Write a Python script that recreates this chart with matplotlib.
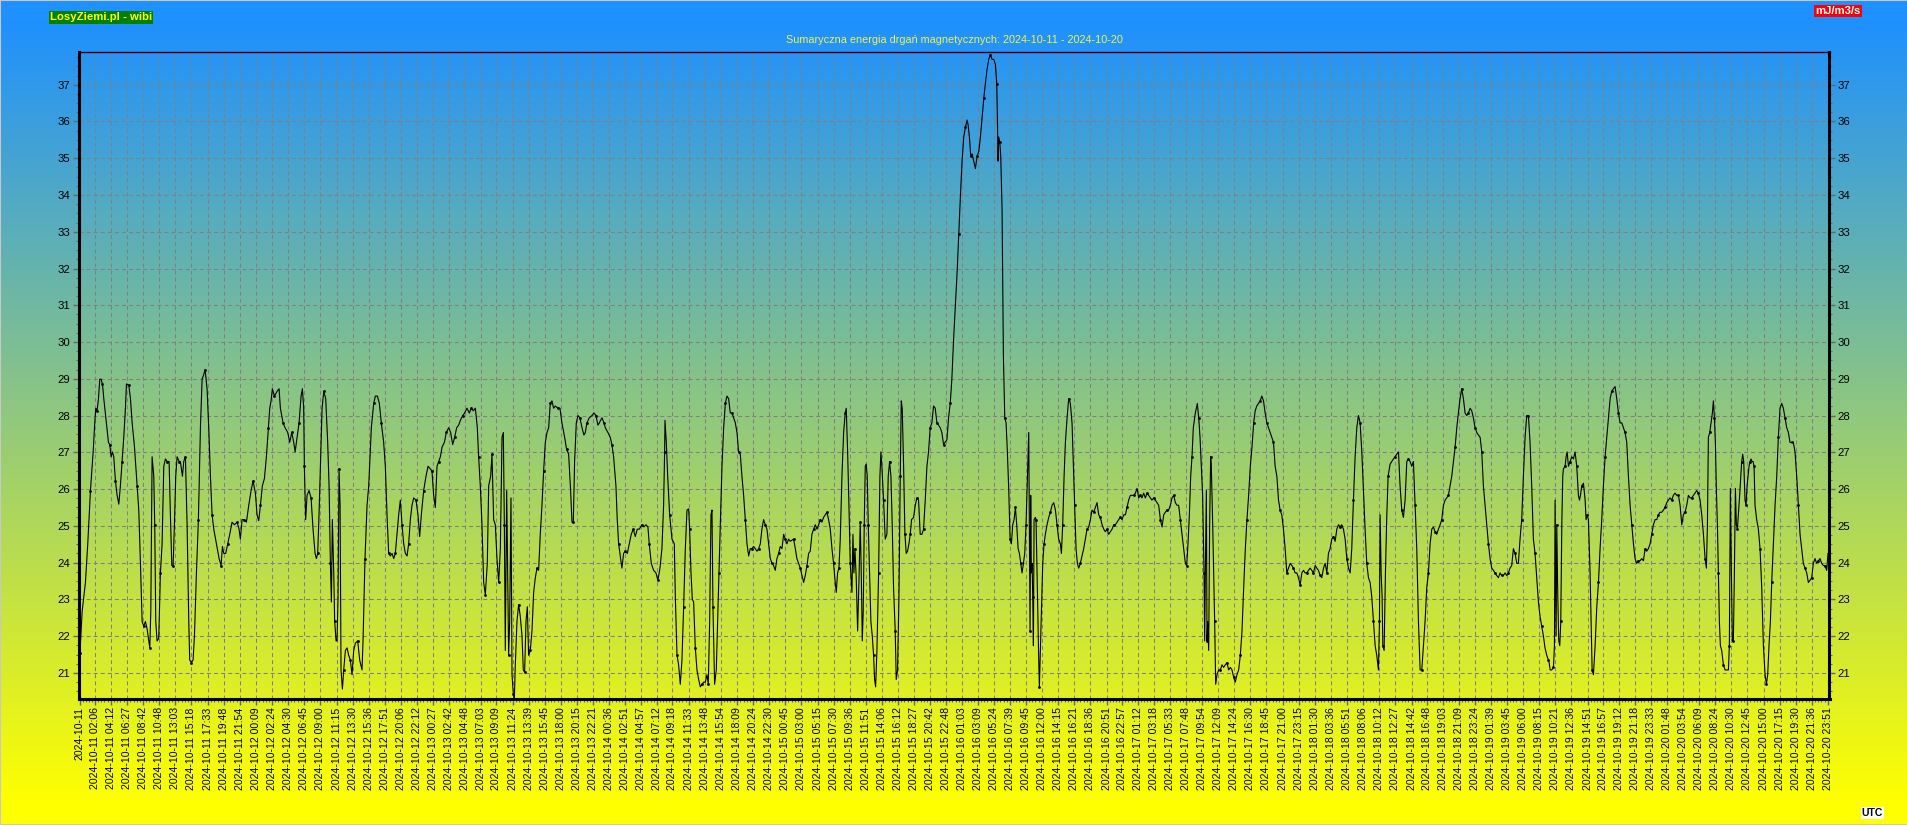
import matplotlib
matplotlib.use('Agg')
import matplotlib.pyplot as plt
import numpy as np
from datetime import datetime
from matplotlib.ticker import FixedLocator, MultipleLocator

# odczyty (godziny od 2024-10-11 00:00 UTC, energia mJ/m3/s)
odcinek_11_12 = [
    (0.00, 21.55), (0.30, 22.67), (0.75, 23.46), (1.07, 24.51), (1.44, 25.96), (1.81, 27.01), (2.03, 27.80),
    (2.17, 28.20), (2.35, 28.13), (2.54, 28.46), (2.72, 28.99), (2.90, 28.99), (3.09, 28.86), (3.27, 28.46),
    (3.63, 27.80), (3.91, 27.27), (4.09, 27.21), (4.27, 26.88), (4.46, 27.01), (4.64, 26.88), (4.87, 26.22),
    (5.10, 25.83), (5.33, 25.59), (5.55, 26.09), (5.78, 26.75), (6.01, 27.41), (6.24, 28.20), (6.38, 28.86),
    (6.70, 28.83), (6.93, 28.46), (7.16, 27.80), (7.48, 27.15), (7.84, 26.09), (8.07, 25.43), (8.30, 23.98),
    (8.53, 22.40), (8.76, 22.27), (8.98, 22.40), (9.21, 22.20), (9.44, 21.87), (9.58, 21.68), (9.72, 22.67),
    (9.90, 26.88), (10.13, 26.35), (10.26, 25.03), (10.40, 22.40), (10.58, 21.87), (10.81, 21.94), (11.04, 23.72),
    (11.27, 24.51), (11.50, 26.62), (11.73, 26.82), (11.96, 26.75), (12.23, 26.75), (12.41, 25.30), (12.60, 23.92),
    (12.78, 23.92), (12.96, 25.03), (13.14, 26.35), (13.33, 26.88), (13.60, 26.75), (13.78, 26.75), (14.06, 26.35),
    (14.24, 26.75), (14.47, 26.88), (14.70, 25.03), (14.93, 22.40), (15.06, 21.35), (15.29, 21.28), (15.52, 21.35),
    (15.71, 22.01), (15.98, 23.72), (16.25, 25.17), (16.53, 27.67), (16.76, 28.99), (16.99, 29.12), (17.17, 29.25),
    (17.44, 28.73), (17.67, 27.67), (17.90, 26.35), (18.13, 25.30), (18.36, 24.91), (18.72, 24.51), (19.09, 24.11),
    (19.36, 23.92), (19.55, 24.44), (19.73, 24.25), (20.00, 24.25), (20.28, 24.51), (20.55, 24.77), (20.87, 25.10),
    (21.19, 25.03), (21.56, 25.10), (21.83, 24.91), (22.01, 24.64), (22.24, 25.17), (22.56, 25.17), (22.84, 25.10),
    (23.16, 25.56), (23.48, 25.96), (23.75, 26.22), (24.07, 25.89), (24.30, 25.30), (24.53, 25.14), (24.76, 25.56),
    (25.03, 26.09), (25.31, 26.29), (25.58, 26.88), (25.86, 27.67), (26.04, 28.20), (26.22, 28.40), (26.40, 28.73),
    (26.68, 28.53), (27.05, 28.66), (27.32, 28.73), (27.50, 28.20), (27.87, 27.80), (28.14, 27.67), (28.51, 27.54),
    (28.78, 27.27), (29.06, 27.54), (29.33, 27.27), (29.52, 27.01), (29.79, 27.41), (30.06, 27.80), (30.34, 28.53),
    (30.52, 28.73), (30.70, 28.20), (30.79, 26.62), (30.97, 25.17), (31.16, 25.83), (31.43, 25.96), (31.71, 25.76),
    (31.98, 24.91), (32.26, 24.25), (32.44, 24.11), (32.62, 24.25), (32.80, 25.30), (32.99, 26.62), (33.22, 28.20),
    (33.45, 28.66), (33.72, 28.46), (33.99, 27.27), (34.18, 26.09), (34.36, 23.98), (34.50, 22.93), (34.63, 25.17),
    (34.82, 23.72), (34.95, 22.40), (35.14, 21.87), (35.27, 21.87), (35.41, 23.06), (35.55, 26.55), (35.69, 25.56),
    (35.82, 21.08), (36.01, 20.56), (36.19, 21.08), (36.42, 21.61), (36.65, 21.68), (36.87, 21.48), (37.10, 21.35),
    (37.33, 20.95), (37.56, 21.61), (37.79, 21.81), (38.11, 21.87), (38.38, 21.35), (38.70, 21.08), (38.84, 21.87),
    (39.11, 24.11), (39.39, 25.56),
]

odcinek_12_14 = [
    (39.62, 26.09), (39.98, 27.67), (40.30, 28.33), (40.53, 28.53), (40.81, 28.53), (41.08, 28.33), (41.35, 27.80),
    (41.67, 27.27), (41.90, 26.62), (42.13, 25.30), (42.36, 24.25), (42.59, 24.18), (42.82, 24.25), (43.05, 24.11),
    (43.27, 24.25), (43.50, 24.77), (43.73, 25.30), (43.96, 25.70), (44.19, 25.03), (44.42, 24.51), (44.65, 24.25),
    (44.88, 24.18), (45.10, 24.51), (45.33, 25.17), (45.56, 25.56), (45.79, 25.76), (46.11, 25.70), (46.38, 25.30),
    (46.61, 24.71), (46.84, 25.30), (47.16, 25.96), (47.48, 26.35), (47.76, 26.62), (48.08, 26.55), (48.30, 26.49),
    (48.53, 25.83), (48.76, 25.50), (48.99, 26.62), (49.22, 26.75), (49.45, 26.88), (49.68, 27.14), (50.00, 27.27),
    (50.27, 27.54), (50.59, 27.67), (50.86, 27.54), (51.14, 27.21), (51.41, 27.41), (51.69, 27.67), (51.96, 27.74),
    (52.19, 27.87), (52.51, 28.00), (52.78, 28.07), (53.10, 28.20), (53.42, 28.07), (53.70, 28.20), (53.97, 28.13),
    (54.25, 28.20), (54.52, 27.67), (54.70, 26.88), (54.93, 26.09), (55.16, 25.03), (55.39, 23.46), (55.62, 23.13),
    (55.89, 23.98), (56.08, 26.09), (56.35, 26.35), (56.53, 26.95), (56.76, 25.17), (56.99, 25.03), (57.22, 24.11),
    (57.45, 23.46), (57.68, 24.38), (57.91, 27.41), (58.09, 27.54), (58.23, 25.03), (58.36, 21.61), (58.55, 25.96),
    (58.68, 23.72), (58.82, 21.48), (58.96, 22.40), (59.14, 25.76), (59.28, 20.95), (59.46, 20.43), (59.60, 20.29),
    (59.73, 21.21), (59.96, 22.40), (60.19, 22.86), (60.42, 22.53), (60.65, 22.01), (60.83, 21.08), (61.01, 21.02),
    (61.20, 22.40), (61.38, 22.80), (61.56, 21.48), (61.79, 21.61), (62.02, 22.14), (62.25, 23.19), (62.48, 23.59),
    (62.71, 23.85), (62.93, 23.79), (63.16, 24.77), (63.39, 25.56), (63.62, 26.49), (63.85, 27.27), (64.08, 27.54),
    (64.31, 27.67), (64.53, 28.33), (64.76, 28.40), (64.99, 28.20), (65.22, 28.26), (65.59, 28.20), (65.86, 28.20),
    (66.13, 27.80), (66.50, 27.41), (66.77, 27.08), (67.05, 26.95), (67.32, 25.96), (67.51, 25.10), (67.69, 25.10),
    (67.87, 26.75), (68.10, 27.80), (68.33, 28.00), (68.60, 27.94), (68.88, 27.67), (69.15, 27.47), (69.34, 27.54),
    (69.56, 27.80), (69.88, 27.94), (70.25, 28.00), (70.52, 28.07), (70.80, 28.00), (71.07, 27.74), (71.26, 27.80),
    (71.62, 27.94), (71.90, 27.80), (72.08, 27.67), (72.44, 27.54), (72.76, 27.41), (72.99, 27.21), (73.22, 26.88),
    (73.54, 26.09), (73.72, 25.17), (73.91, 24.51), (74.18, 24.11), (74.36, 23.85), (74.59, 24.25), (74.82, 24.31),
    (75.10, 24.25), (75.37, 24.51), (75.64, 24.77), (75.92, 24.91), (76.19, 24.71), (76.47, 24.91), (76.74, 24.91),
    (77.11, 25.03), (77.38, 24.97), (77.66, 25.03), (77.93, 24.97), (78.11, 24.51), (78.39, 23.98), (78.71, 23.79),
    (79.03, 23.72), (79.30, 23.52), (79.58, 23.85), (79.85, 24.38), (80.08, 25.56), (80.22, 27.01),
]

odcinek_14_16 = [
    (80.27, 27.87), (80.45, 27.28), (80.64, 26.35), (80.91, 25.30), (81.23, 24.64), (81.55, 24.51), (81.69, 23.06),
    (81.92, 21.48), (82.14, 21.22), (82.37, 20.69), (82.60, 21.35), (82.83, 22.80), (83.06, 24.38), (83.29, 25.43),
    (83.52, 25.46), (83.65, 24.91), (83.84, 23.72), (84.02, 23.00), (84.20, 22.93), (84.43, 21.68), (84.66, 21.08),
    (84.89, 20.82), (85.12, 20.62), (85.35, 20.69), (85.57, 20.75), (85.80, 20.75), (86.03, 20.95), (86.21, 20.69),
    (86.40, 22.40), (86.58, 25.30), (86.72, 25.43), (86.85, 22.80), (87.08, 20.69), (87.31, 21.08), (87.49, 22.40),
    (87.68, 23.72), (87.86, 25.03), (88.09, 26.62), (88.32, 27.67), (88.55, 28.33), (88.77, 28.53), (89.00, 28.46),
    (89.23, 28.07), (89.46, 28.07), (89.69, 27.94), (89.92, 27.80), (90.15, 27.54), (90.37, 27.01), (90.60, 26.95),
    (90.83, 26.35), (91.06, 25.83), (91.29, 25.17), (91.52, 24.51), (91.75, 24.18), (91.97, 24.38), (92.20, 24.38),
    (92.43, 24.44), (92.66, 24.38), (92.89, 24.31), (93.12, 24.38), (93.35, 24.51), (93.57, 24.91), (93.80, 25.17),
    (94.03, 25.03), (94.26, 24.91), (94.49, 24.51), (94.72, 24.11), (94.95, 23.98), (95.17, 23.92), (95.40, 23.79),
    (95.63, 24.11), (95.86, 24.25), (96.09, 24.44), (96.32, 24.38), (96.55, 24.77), (96.77, 24.64), (97.00, 24.51),
    (97.23, 24.64), (97.46, 24.58), (97.92, 24.64), (98.15, 24.38), (98.37, 24.11), (98.60, 23.98), (98.83, 23.85),
    (99.06, 23.65), (99.29, 23.46), (99.52, 23.65), (99.75, 23.92), (99.98, 24.25), (100.20, 24.31), (100.43, 24.77),
    (100.66, 24.91), (100.89, 25.03), (101.12, 24.91), (101.35, 25.03), (101.58, 25.17), (101.80, 25.10),
    (102.03, 25.23), (102.26, 25.30), (102.49, 25.37), (102.72, 25.17), (102.95, 24.91), (103.18, 24.38),
    (103.40, 23.98), (103.63, 23.46), (103.77, 23.19), (103.95, 23.72), (104.14, 23.85), (104.32, 24.64),
    (104.55, 26.35), (104.78, 27.54), (105.00, 28.07), (105.14, 28.20), (105.33, 27.01), (105.51, 25.56),
    (105.69, 23.98), (105.92, 23.19), (106.06, 24.77), (106.19, 23.72), (106.33, 24.38), (106.51, 23.59),
    (106.70, 22.14), (106.88, 23.46), (107.06, 25.10), (107.20, 23.72), (107.34, 21.87), (107.47, 22.67),
    (107.61, 25.03), (107.75, 26.62), (107.88, 26.68), (108.02, 26.35), (108.16, 25.03), (108.34, 23.72),
    (108.52, 22.40), (108.71, 22.01), (108.89, 21.48), (109.03, 20.82), (109.17, 20.62), (109.35, 21.61),
    (109.58, 23.72), (109.76, 26.35), (109.90, 27.01), (110.03, 26.62), (110.26, 25.70), (110.49, 24.64),
    (110.72, 24.77), (110.90, 26.35), (111.09, 26.75), (111.27, 26.35), (111.45, 25.03), (111.63, 23.32),
    (111.86, 22.14), (112.00, 20.82), (112.18, 21.08), (112.37, 23.06), (112.55, 26.35), (112.69, 28.40),
    (112.82, 28.20), (113.01, 26.62), (113.19, 24.77), (113.37, 24.25), (113.55, 24.31), (113.74, 24.51),
    (113.92, 24.77), (114.10, 25.17), (114.38, 25.23), (114.61, 25.56), (114.83, 25.76), (115.06, 25.70),
    (115.29, 24.77), (115.52, 24.77), (115.75, 24.91), (115.98, 25.70), (116.21, 26.62), (116.43, 27.01),
    (116.66, 27.67), (116.89, 27.80), (117.12, 28.26), (117.35, 28.20), (117.58, 27.80), (117.81, 27.74),
    (118.03, 27.67), (118.26, 27.54), (118.49, 27.21), (118.72, 27.28), (118.95, 27.34), (119.18, 27.94),
    (119.41, 28.33), (119.63, 28.99), (119.86, 30.04),
]

odcinek_16_17 = [
    (120.35, 31.89), (120.58, 32.94), (120.81, 33.99), (121.03, 34.92), (121.26, 35.58), (121.49, 35.84),
    (121.72, 36.04), (121.86, 35.91), (122.04, 35.58), (122.22, 35.05), (122.41, 35.12), (122.63, 34.92),
    (122.86, 34.72), (123.09, 35.05), (123.32, 35.18), (123.55, 35.58), (123.78, 36.10), (124.01, 36.63),
    (124.23, 37.03), (124.46, 37.42), (124.69, 37.69), (124.92, 37.82), (125.15, 37.69), (125.38, 37.69),
    (125.61, 37.55), (125.79, 37.03), (125.88, 36.10), (125.97, 34.92), (126.06, 35.58), (126.20, 35.45),
    (126.34, 35.05), (126.52, 33.60), (126.70, 29.65), (126.89, 27.94), (127.07, 27.80), (127.25, 27.01),
    (127.44, 25.96), (127.62, 24.64), (127.80, 24.51), (127.98, 25.03), (128.17, 25.17), (128.35, 25.50),
    (128.53, 25.03), (128.72, 24.38), (128.90, 24.25), (129.08, 23.98), (129.26, 23.72), (129.45, 23.98),
    (129.63, 24.25), (129.81, 25.03), (130.00, 26.35), (130.18, 27.54), (130.27, 25.03), (130.36, 22.14),
    (130.45, 25.83), (130.54, 23.72), (130.64, 23.98), (130.73, 23.06), (130.82, 21.74), (130.91, 25.17),
    (131.09, 25.23), (131.18, 25.17), (131.32, 23.72), (131.46, 22.40), (131.55, 21.35), (131.64, 20.62),
    (131.78, 21.61), (131.92, 22.53), (132.10, 23.98), (132.28, 24.51), (132.46, 24.77), (132.69, 25.03),
    (132.92, 25.23), (133.15, 25.37), (133.38, 25.56), (133.61, 25.63), (133.84, 25.43), (134.06, 25.03),
    (134.29, 24.64), (134.52, 24.51), (134.66, 24.25), (134.84, 25.03), (135.03, 26.35), (135.21, 27.27),
    (135.44, 27.94), (135.66, 28.46), (135.89, 28.33), (136.12, 27.80), (136.35, 26.35), (136.49, 25.56),
    (136.67, 24.38), (136.85, 23.98), (137.04, 23.85), (137.26, 23.98), (137.49, 24.18), (137.72, 24.38),
    (137.95, 24.64), (138.18, 24.91), (138.41, 24.97), (138.64, 25.17), (138.86, 25.43), (139.09, 25.37),
    (139.32, 25.50), (139.55, 25.63), (139.78, 25.30), (140.01, 25.23), (140.24, 25.03), (140.47, 24.91),
    (140.69, 24.84), (140.92, 24.91), (141.15, 24.77), (141.38, 24.84), (141.61, 24.91), (141.84, 25.03),
    (142.07, 25.03), (142.29, 25.10), (142.52, 25.17), (142.75, 25.23), (142.98, 25.17), (143.21, 25.30),
    (143.44, 25.30), (143.67, 25.50), (143.89, 25.70), (144.12, 25.83), (144.35, 25.83), (144.58, 25.83),
    (144.81, 25.89), (145.04, 26.02), (145.27, 25.76), (145.49, 25.83), (145.72, 25.76), (145.95, 25.89),
    (146.18, 25.76), (146.41, 25.89), (146.64, 25.83), (146.87, 25.76), (147.09, 25.70), (147.32, 25.76),
    (147.55, 25.70), (147.78, 25.63), (148.01, 25.56), (148.24, 25.17), (148.47, 24.97), (148.70, 25.30),
    (148.92, 25.37), (149.15, 25.43), (149.38, 25.43), (149.61, 25.56), (149.84, 25.76), (150.07, 25.83),
    (150.30, 25.63), (150.52, 25.56), (150.75, 25.56), (150.98, 25.17), (151.21, 24.77), (151.44, 24.38),
    (151.67, 23.98), (151.85, 23.92), (152.03, 24.51), (152.22, 25.30), (152.40, 26.35), (152.58, 26.88),
    (152.76, 27.67), (153.04, 28.07), (153.31, 28.33), (153.50, 27.94), (153.68, 27.41), (153.86, 26.62),
    (154.04, 25.83), (154.23, 23.72), (154.32, 21.87), (154.41, 23.72), (154.55, 25.96), (154.64, 21.87),
    (154.73, 22.40), (154.87, 21.61), (155.00, 25.03), (155.14, 26.88), (155.23, 26.62), (155.42, 25.03),
    (155.55, 23.72), (155.69, 22.40), (155.83, 20.69), (156.01, 20.95), (156.24, 21.08), (156.47, 21.08),
    (156.70, 21.22), (156.92, 21.15), (157.15, 21.22), (157.38, 21.28), (157.61, 21.08), (157.84, 21.15),
    (158.07, 21.08), (158.30, 20.88), (158.52, 20.75), (158.75, 20.95), (158.98, 21.08), (159.21, 21.48),
    (159.44, 22.14), (159.67, 23.32), (159.90, 24.38), (160.12, 25.17), (160.35, 25.83), (160.58, 26.62),
    (160.81, 27.14), (161.04, 27.80),
]

odcinek_17_19 = [
    (161.25, 28.13), (161.47, 28.26), (161.70, 28.33), (161.93, 28.40), (162.16, 28.53), (162.39, 28.40),
    (162.62, 28.07), (162.85, 27.80), (163.07, 27.67), (163.30, 27.54), (163.53, 27.41), (163.76, 27.27),
    (163.99, 26.62), (164.22, 26.35), (164.45, 25.70), (164.67, 25.43), (164.90, 25.30), (165.13, 24.91),
    (165.36, 24.38), (165.59, 23.72), (165.82, 23.85), (166.05, 23.98), (166.28, 23.92), (166.50, 23.85),
    (166.73, 23.72), (166.96, 23.72), (167.19, 23.59), (167.42, 23.39), (167.65, 23.72), (167.88, 23.79),
    (168.10, 23.72), (168.33, 23.72), (168.56, 23.79), (168.79, 23.85), (169.02, 23.79), (169.25, 23.72),
    (169.48, 23.92), (169.70, 23.85), (169.93, 23.79), (170.16, 23.65), (170.39, 23.59), (170.62, 23.85),
    (170.85, 23.98), (171.08, 23.72), (171.30, 24.25), (171.53, 24.38), (171.76, 24.64), (171.99, 24.71),
    (172.22, 24.58), (172.45, 24.91), (172.68, 25.03), (172.90, 24.97), (173.13, 25.03), (173.36, 24.91),
    (173.59, 24.64), (173.82, 24.11), (174.05, 23.85), (174.28, 23.72), (174.50, 24.38), (174.73, 25.70),
    (174.96, 26.88), (175.19, 27.67), (175.42, 28.00), (175.65, 27.80), (175.88, 27.01), (176.10, 25.96),
    (176.33, 24.91), (176.56, 23.98), (176.79, 23.59), (177.02, 23.46), (177.25, 23.06), (177.48, 22.40),
    (177.71, 21.74), (177.93, 21.48), (178.16, 21.08), (178.30, 22.40), (178.39, 25.30), (178.53, 23.72),
    (178.67, 23.06), (178.76, 21.74), (178.94, 21.61), (179.12, 23.72), (179.31, 25.30), (179.49, 26.35),
    (179.76, 26.68), (179.99, 26.75), (180.22, 26.82), (180.45, 26.88), (180.68, 26.95), (180.91, 27.01),
    (181.13, 26.09), (181.36, 25.43), (181.59, 25.23), (181.82, 25.70), (182.05, 26.75), (182.28, 26.82),
    (182.51, 26.75), (182.73, 26.62), (182.96, 26.75), (183.19, 25.56), (183.42, 24.38), (183.65, 22.40),
    (183.88, 21.08), (184.11, 21.08), (184.33, 21.74), (184.56, 22.40), (184.79, 23.32), (185.02, 23.72),
    (185.25, 24.51), (185.48, 24.91), (185.71, 24.97), (185.93, 24.84), (186.16, 24.77), (186.39, 24.91),
    (186.62, 25.03), (186.85, 25.17), (187.08, 25.56), (187.31, 25.70), (187.53, 25.76), (187.76, 25.83),
    (187.99, 26.09), (188.22, 26.35), (188.45, 26.75), (188.68, 27.14), (188.91, 27.67), (189.13, 28.07),
    (189.36, 28.46), (189.59, 28.73), (189.82, 28.46), (190.05, 28.07), (190.28, 28.00), (190.51, 28.07),
    (190.74, 28.20), (190.96, 28.13), (191.19, 27.94), (191.42, 27.67), (191.65, 27.54), (191.88, 27.47),
    (192.11, 27.41), (192.34, 27.01), (192.56, 26.09), (192.79, 25.56), (193.02, 25.03), (193.25, 24.51),
    (193.48, 24.11), (193.71, 23.85), (193.94, 23.79), (194.16, 23.72), (194.39, 23.65), (194.62, 23.59),
    (194.85, 23.72), (195.08, 23.65), (195.31, 23.65), (195.54, 23.72), (195.76, 23.65), (195.99, 23.72),
    (196.22, 23.85), (196.45, 23.92), (196.68, 24.38), (196.91, 24.25), (197.14, 23.98), (197.36, 23.98),
    (197.59, 24.64), (197.82, 25.17), (198.05, 26.35), (198.28, 27.41), (198.51, 28.00), (198.74, 28.00),
    (198.96, 27.27), (199.19, 26.09), (199.42, 24.64), (199.65, 24.25), (199.88, 23.59), (200.11, 22.93),
    (200.34, 22.53), (200.56, 22.27), (200.79, 22.01), (201.02, 21.68), (201.25, 21.48), (201.48, 21.35),
]

odcinek_19_20 = [
    (201.58, 21.28), (201.72, 21.08), (201.94, 21.08), (202.17, 21.15), (202.31, 21.74), (202.40, 25.70),
    (202.54, 22.01), (202.63, 25.03), (202.77, 23.06), (202.90, 21.87), (203.04, 21.74), (203.18, 22.40),
    (203.32, 25.03), (203.45, 26.35), (203.54, 26.55), (203.77, 26.62), (203.91, 26.88), (204.05, 27.01),
    (204.23, 26.62), (204.46, 26.75), (204.69, 26.88), (204.92, 26.82), (205.14, 27.01), (205.37, 26.62),
    (205.60, 25.83), (205.74, 25.70), (205.88, 25.83), (206.06, 26.09), (206.29, 26.16), (206.52, 25.70),
    (206.65, 25.17), (206.79, 25.30), (206.97, 25.17), (207.20, 23.72), (207.34, 22.40), (207.48, 21.08),
    (207.66, 20.95), (207.89, 21.74), (208.12, 22.80), (208.35, 23.46), (208.57, 24.38), (208.80, 25.17),
    (209.03, 26.09), (209.26, 26.88), (209.49, 27.41), (209.72, 27.94), (209.95, 28.46), (210.17, 28.66),
    (210.40, 28.73), (210.63, 28.79), (210.86, 28.46), (211.09, 28.07), (211.32, 27.80), (211.55, 27.80),
    (211.77, 27.67), (212.00, 27.54), (212.23, 27.27), (212.46, 26.35), (212.69, 25.56), (212.92, 25.03),
    (213.15, 24.51), (213.37, 24.11), (213.60, 23.98), (213.83, 24.05), (214.06, 24.05), (214.29, 24.11),
    (214.52, 24.05), (214.75, 24.38), (214.97, 24.31), (215.20, 24.38), (215.43, 24.51), (215.66, 24.77),
    (215.89, 25.03), (216.12, 25.17), (216.35, 25.17), (216.57, 25.30), (216.80, 25.37), (217.03, 25.37),
    (217.26, 25.43), (217.49, 25.50), (217.72, 25.63), (217.95, 25.70), (218.17, 25.76), (218.40, 25.70),
    (218.63, 25.83), (218.86, 25.89), (219.09, 25.83), (219.32, 25.83), (219.55, 25.56), (219.78, 25.03),
    (220.00, 25.30), (220.23, 25.37), (220.46, 25.56), (220.69, 25.83), (220.92, 25.76), (221.15, 25.76),
    (221.38, 25.83), (221.60, 25.89), (221.83, 25.96), (222.06, 25.89), (222.29, 25.70), (222.52, 25.30),
    (222.75, 24.77), (222.98, 24.11), (223.16, 23.85), (223.30, 25.03), (223.43, 27.41), (223.62, 27.54),
    (223.80, 27.80), (223.98, 28.07), (224.12, 28.40), (224.26, 27.94), (224.39, 27.28), (224.53, 25.96),
    (224.67, 25.03), (224.80, 23.72), (224.94, 22.40), (225.08, 21.74), (225.26, 21.61), (225.49, 21.22),
    (225.72, 21.08), (225.95, 21.08), (226.18, 21.08), (226.31, 21.74), (226.45, 26.02), (226.59, 23.72),
    (226.72, 21.87), (226.86, 21.87), (227.00, 23.72), (227.14, 26.02), (227.27, 25.03), (227.41, 24.91),
    (227.55, 25.30), (227.68, 25.70), (227.87, 26.35), (228.00, 26.75), (228.14, 26.95), (228.28, 26.75),
    (228.46, 25.70), (228.60, 25.56), (228.74, 26.09), (228.87, 26.35), (229.01, 26.62), (229.15, 26.75),
    (229.28, 26.82), (229.42, 26.75), (229.56, 26.75), (229.70, 26.62), (229.83, 25.56), (230.06, 25.17),
    (230.29, 24.91), (230.52, 24.38), (230.75, 23.32), (230.98, 21.74), (231.21, 20.95), (231.39, 20.69),
    (231.57, 20.95), (231.75, 21.74), (231.94, 22.40), (232.12, 23.46), (232.35, 24.51), (232.58, 25.56),
    (232.81, 26.35), (233.03, 27.41), (233.26, 28.20), (233.49, 28.33), (233.72, 28.20), (233.95, 27.94),
    (234.18, 27.67), (234.41, 27.54), (234.63, 27.27), (234.86, 27.27), (235.09, 27.27), (235.32, 27.01),
    (235.55, 26.35), (235.78, 25.56), (236.01, 24.77), (236.23, 24.38), (236.46, 23.98), (236.69, 23.85),
    (236.92, 23.72), (237.15, 23.46), (237.38, 23.52), (237.61, 23.59), (237.83, 23.98), (238.06, 24.11),
    (238.29, 23.98), (238.52, 24.05), (238.75, 24.11), (238.98, 23.98), (239.21, 23.92), (239.44, 23.92),
    (239.66, 23.79), (239.85, 24.25),
]

etykiety_x = [
    "2024-10-11",
    "2024-10-11 02:06", "2024-10-11 04:12", "2024-10-11 06:27", "2024-10-11 08:42", "2024-10-11 10:48",
    "2024-10-11 13:03", "2024-10-11 15:18", "2024-10-11 17:33", "2024-10-11 19:48", "2024-10-11 21:54",
    "2024-10-12 00:09", "2024-10-12 02:24", "2024-10-12 04:30", "2024-10-12 06:45", "2024-10-12 09:00",
    "2024-10-12 11:15", "2024-10-12 13:30", "2024-10-12 15:36", "2024-10-12 17:51", "2024-10-12 20:06",
    "2024-10-12 22:12",
    "2024-10-13 00:27", "2024-10-13 02:42", "2024-10-13 04:48", "2024-10-13 07:03", "2024-10-13 09:09",
    "2024-10-13 11:24", "2024-10-13 13:39", "2024-10-13 15:45", "2024-10-13 18:00", "2024-10-13 20:15",
    "2024-10-13 22:21",
    "2024-10-14 00:36", "2024-10-14 02:51", "2024-10-14 04:57", "2024-10-14 07:12", "2024-10-14 09:18",
    "2024-10-14 11:33", "2024-10-14 13:48", "2024-10-14 15:54", "2024-10-14 18:09", "2024-10-14 20:24",
    "2024-10-14 22:30",
    "2024-10-15 00:45", "2024-10-15 03:00", "2024-10-15 05:15", "2024-10-15 07:30", "2024-10-15 09:36",
    "2024-10-15 11:51", "2024-10-15 14:06", "2024-10-15 16:12", "2024-10-15 18:27", "2024-10-15 20:42",
    "2024-10-15 22:48",
    "2024-10-16 01:03", "2024-10-16 03:09", "2024-10-16 05:24", "2024-10-16 07:39", "2024-10-16 09:45",
    "2024-10-16 12:00", "2024-10-16 14:15", "2024-10-16 16:21", "2024-10-16 18:36", "2024-10-16 20:51",
    "2024-10-16 22:57",
    "2024-10-17 01:12", "2024-10-17 03:18", "2024-10-17 05:33", "2024-10-17 07:48", "2024-10-17 09:54",
    "2024-10-17 12:09", "2024-10-17 14:24", "2024-10-17 16:30", "2024-10-17 18:45", "2024-10-17 21:00",
    "2024-10-17 23:15",
    "2024-10-18 01:30", "2024-10-18 03:36", "2024-10-18 05:51", "2024-10-18 08:06", "2024-10-18 10:12",
    "2024-10-18 12:27", "2024-10-18 14:42", "2024-10-18 16:48", "2024-10-18 19:03", "2024-10-18 21:09",
    "2024-10-18 23:24",
    "2024-10-19 01:39", "2024-10-19 03:45", "2024-10-19 06:00", "2024-10-19 08:15", "2024-10-19 10:21",
    "2024-10-19 12:36", "2024-10-19 14:51", "2024-10-19 16:57", "2024-10-19 19:12", "2024-10-19 21:18",
    "2024-10-19 23:33",
    "2024-10-20 01:48", "2024-10-20 03:54", "2024-10-20 06:09", "2024-10-20 08:24", "2024-10-20 10:30",
    "2024-10-20 12:45", "2024-10-20 15:00", "2024-10-20 17:15", "2024-10-20 19:30", "2024-10-20 21:36",
    "2024-10-20 23:51",
]

tytul = "Sumaryczna energia drgań magnetycznych: 2024-10-11 - 2024-10-20"

# --- dane ---
pomiary = odcinek_11_12 + odcinek_12_14 + odcinek_14_16 + odcinek_16_17 + odcinek_17_19 + odcinek_19_20
godz = np.array([p[0] for p in pomiary])
energia = np.array([p[1] for p in pomiary])

start = datetime(2024, 10, 11)
def na_godziny(s):
    if len(s) == 10:
        s = s + " 00:00"
    return (datetime.strptime(s, "%Y-%m-%d %H:%M") - start).total_seconds() / 3600.0
tick_pos = np.array([na_godziny(s) for s in etykiety_x])

# drobne kreski miedzy etykietami
minor_pos = []
for a, b in zip(tick_pos[:-1], tick_pos[1:]):
    minor_pos.extend(np.linspace(a, b, 6)[1:-1])

plt.rcParams['font.family'] = ['Liberation Sans', 'DejaVu Sans']

fig = plt.figure(figsize=(19.08, 8.25), dpi=100)

# tlo - gradient niebieski -> zolty
bg = fig.add_axes([0, 0, 1, 1], zorder=0)
n = 825
frac = np.clip((np.arange(n) - 20) / 780.0, 0, 1)[:, None]
gora = np.array([30, 144, 255]) / 255.0
dol = np.array([255, 255, 0]) / 255.0
grad = (gora * (1 - frac) + dol * frac)[:, None, :]
bg.imshow(grad, aspect='auto', extent=[0, 1, 0, 1], origin='upper')
bg.set_axis_off()
bg.add_patch(plt.Rectangle((0, 0), 1, 1, transform=bg.transAxes, fill=False,
                           edgecolor='#c8c8c8', linewidth=1.5))

ax = fig.add_axes([78.5 / 1908, 1 - 699 / 825, 1751 / 1908, 647 / 825], zorder=1)
ax.set_facecolor('none')
ax.plot(godz, energia, color='black', linewidth=0.8, marker='s', markersize=0.9,
        markevery=4, zorder=3)

ax.set_xlim(-0.2, 240.05)
ax.set_ylim(20.29, 37.89)

ax.xaxis.set_major_locator(FixedLocator(tick_pos))
ax.xaxis.set_minor_locator(FixedLocator(minor_pos))
ax.set_xticklabels(etykiety_x, rotation=90, fontsize=7.6, va='top', ha='center')
ax.yaxis.set_major_locator(MultipleLocator(1))
ax.yaxis.set_minor_locator(MultipleLocator(0.25))

ax.tick_params(axis='x', which='major', length=4, width=1, color='#666666', pad=2)
ax.tick_params(axis='x', which='minor', length=2.5, width=0.8, color='#666666')
ax.tick_params(axis='y', which='major', length=4, width=1, color='#666666',
               labelsize=8.2, left=True, right=True, labelleft=True, labelright=True, pad=2)
ax.tick_params(axis='y', which='minor', length=2, width=0.8, color='#666666',
               left=True, right=True)

ax.grid(True, which='major', color='#808080', linewidth=0.75, linestyle=(0, (3.8, 3)))

for side in ['left', 'right', 'bottom']:
    ax.spines[side].set_linewidth(2.2)
ax.spines['top'].set_linewidth(1.0)
for s in ax.spines.values():
    s.set_color('black')

fig.text(0.5, 1 - 40 / 825, tytul, ha='center', va='center', fontsize=7.8, color='#f2f24a')
fig.text(101 / 1908, 1 - 17.5 / 825, "LosyZiemi.pl - wibi", ha='center', va='center',
         fontsize=8.2, fontweight='bold', color='#ffff00',
         bbox=dict(boxstyle='square,pad=0.12', facecolor='#008000', edgecolor='none'))
fig.text(1838 / 1908, 1 - 11 / 825, "mJ/m3/s", ha='center', va='center',
         fontsize=8.2, fontweight='bold', color='white',
         bbox=dict(boxstyle='square,pad=0.12', facecolor='#ff0000', edgecolor='none'))
fig.text(1872.5 / 1908, 12 / 825, "UTC", ha='center', va='center',
         fontsize=7.5, fontweight='bold', color='black',
         bbox=dict(boxstyle='square,pad=0.1', facecolor='white', edgecolor='none'))

plt.savefig('out.png', dpi=100)
plt.close()
